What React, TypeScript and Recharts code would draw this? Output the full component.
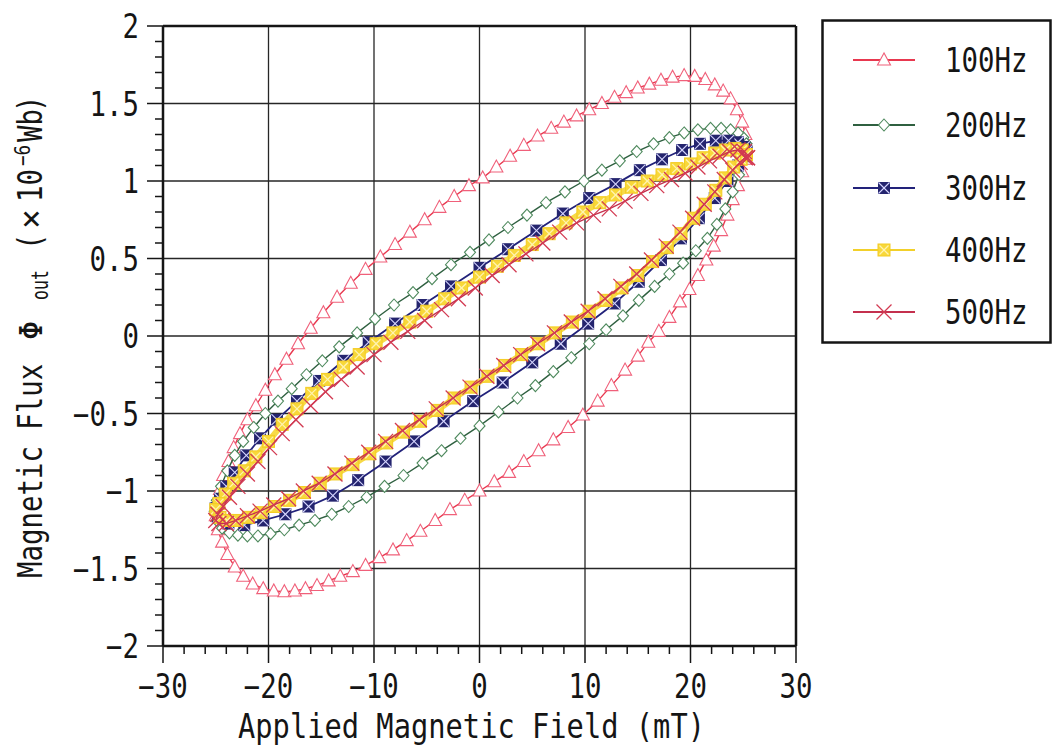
import React from 'react';
import { ScatterChart, Scatter, XAxis, YAxis, CartesianGrid, ReferenceLine, Legend } from 'recharts';

// ---- axis ticks / labels ----
const xTicks = [-30, -28, -26, -24, -22, -20, -18, -16, -14, -12, -10, -8, -6, -4, -2, 0, 2, 4, 6, 8, 10, 12, 14, 16, 18, 20, 22, 24, 26, 28, 30];
const xMajorTicks = [-30, -20, -10, 0, 10, 20, 30];
const xTickLabels = ['−30', '−20', '−10', '0', '10', '20', '30'];
const yTicks = [-2, -1.9, -1.8, -1.7, -1.6, -1.5, -1.4, -1.3, -1.2, -1.1, -1, -0.9, -0.8, -0.7, -0.6, -0.5, -0.4, -0.3, -0.2, -0.1, 0, 0.1, 0.2, 0.3, 0.4, 0.5, 0.6, 0.7, 0.8, 0.9, 1, 1.1, 1.2, 1.3, 1.4, 1.5, 1.6, 1.7, 1.8, 1.9, 2];
const yMajorTicks = [-2, -1.5, -1, -0.5, 0, 0.5, 1, 1.5, 2];
const yTickLabels = ['−2', '−1.5', '−1', '−0.5', '0', '0.5', '1', '1.5', '2'];
const seriesNames = ['100Hz', '200Hz', '300Hz', '400Hz', '500Hz'];

// ---- data: [applied field (mT), flux (x1e-6 Wb)] ----
const loop100Hz = [
  [25.3, 1.22], [25.2, 1.30], [24.9, 1.38], [24.4, 1.46], [23.8, 1.53], [23.1, 1.58], [22.3, 1.62], [21.4, 1.655], [20.4, 1.675], [19.4, 1.68],
  [18.3, 1.67], [17.2, 1.65], [16.1, 1.625], [15.0, 1.60], [13.9, 1.57], [12.8, 1.54], [11.6, 1.50], [10.4, 1.46], [9.2, 1.42], [8.0, 1.38],
  [6.8, 1.34], [5.5, 1.29], [4.2, 1.23], [2.9, 1.16], [1.6, 1.09], [0.3, 1.02], [-1.0, 0.97], [-2.4, 0.90], [-3.8, 0.83], [-5.2, 0.75],
  [-6.6, 0.67], [-8.0, 0.59], [-9.4, 0.51], [-10.8, 0.43], [-12.2, 0.34], [-13.5, 0.25], [-14.8, 0.15], [-16.0, 0.05], [-17.2, -0.05], [-18.3, -0.15],
  [-19.4, -0.25], [-20.3, -0.35], [-21.2, -0.45], [-22.0, -0.54], [-22.7, -0.63], [-23.3, -0.72], [-23.8, -0.81], [-24.3, -0.90], [-24.6, -0.99], [-24.9, -1.08],
  [-25.0, -1.16], [-24.8, -1.25], [-24.4, -1.33], [-23.9, -1.41], [-23.2, -1.49], [-22.4, -1.55], [-21.5, -1.60], [-20.5, -1.63], [-19.5, -1.645], [-18.5, -1.65],
  [-17.5, -1.645], [-16.5, -1.63], [-15.4, -1.61], [-14.3, -1.58], [-13.2, -1.55], [-12.0, -1.52], [-10.8, -1.48], [-9.5, -1.43], [-8.2, -1.38], [-6.9, -1.32],
  [-5.6, -1.26], [-4.2, -1.19], [-2.8, -1.12], [-1.4, -1.06], [0.0, -1.00], [1.4, -0.94], [2.8, -0.88], [4.2, -0.81], [5.6, -0.74], [7.0, -0.67],
  [8.4, -0.59], [9.8, -0.51], [11.2, -0.42], [12.5, -0.32], [13.8, -0.22], [15.0, -0.13], [16.0, -0.04], [17.0, 0.03], [18.0, 0.12], [19.0, 0.22],
  [19.9, 0.30], [20.7, 0.39], [21.5, 0.49], [22.2, 0.58], [22.9, 0.68], [23.5, 0.78], [24.0, 0.88], [24.5, 0.97], [24.9, 1.06], [25.2, 1.14], [25.3, 1.22],
];

const loop200Hz = [
  [25.3, 1.24], [25.0, 1.28], [24.5, 1.31], [23.8, 1.33], [22.9, 1.34], [21.9, 1.34], [20.7, 1.33], [19.4, 1.31], [18.0, 1.28], [16.5, 1.24],
  [14.9, 1.19], [13.3, 1.13], [11.6, 1.07], [9.9, 1.00], [8.1, 0.93], [6.3, 0.86], [4.5, 0.78], [2.7, 0.70], [0.9, 0.62], [-0.9, 0.54],
  [-2.7, 0.46], [-4.5, 0.37], [-6.3, 0.28], [-8.1, 0.20], [-9.9, 0.11], [-11.6, 0.02], [-13.3, -0.07], [-14.9, -0.16], [-16.4, -0.25], [-17.8, -0.34],
  [-19.1, -0.42], [-20.3, -0.50], [-21.4, -0.59], [-22.4, -0.68], [-23.2, -0.77], [-23.9, -0.87], [-24.5, -0.97], [-24.9, -1.06], [-25.1, -1.13],
  [-24.9, -1.19], [-24.4, -1.24], [-23.7, -1.27], [-22.9, -1.285], [-22.0, -1.29], [-21.0, -1.29], [-19.8, -1.275], [-18.5, -1.25], [-17.1, -1.22], [-15.6, -1.19],
  [-14.0, -1.15], [-12.4, -1.10], [-10.7, -1.04], [-9.0, -0.97], [-7.2, -0.90], [-5.4, -0.82], [-3.6, -0.74], [-1.8, -0.66], [0.0, -0.58], [1.8, -0.49],
  [3.6, -0.40], [5.3, -0.32], [7.0, -0.23], [8.7, -0.14], [10.4, -0.05], [12.0, 0.04], [13.6, 0.13], [15.1, 0.23], [16.6, 0.32], [18.0, 0.40],
  [19.3, 0.47], [20.5, 0.55], [21.6, 0.63], [22.5, 0.72], [23.3, 0.82], [24.0, 0.93], [24.6, 1.04], [25.0, 1.14], [25.3, 1.24],
];

const loop300Hz = [
  [25.3, 1.19], [25.1, 1.22], [24.5, 1.25], [23.6, 1.26], [22.4, 1.26], [20.9, 1.24], [19.2, 1.20], [17.3, 1.14], [15.2, 1.07], [12.9, 0.98],
  [10.4, 0.89], [7.9, 0.79], [5.4, 0.68], [2.7, 0.56], [0.0, 0.44], [-2.7, 0.32], [-5.4, 0.20], [-8.0, 0.08], [-10.5, -0.04], [-12.9, -0.16],
  [-15.2, -0.29], [-17.3, -0.42], [-19.2, -0.54], [-20.8, -0.66], [-22.1, -0.77], [-23.2, -0.88], [-24.0, -0.97], [-24.6, -1.05], [-25.0, -1.11],
  [-24.8, -1.17], [-23.8, -1.21], [-22.3, -1.22], [-20.5, -1.19], [-18.4, -1.15], [-16.2, -1.10], [-13.9, -1.03], [-11.5, -0.93], [-8.9, -0.81], [-6.2, -0.68],
  [-3.4, -0.55], [-0.6, -0.42], [2.2, -0.30], [5.0, -0.17], [7.7, -0.05], [10.3, 0.08], [12.8, 0.21], [15.1, 0.35], [17.2, 0.49], [19.1, 0.63],
  [20.8, 0.76], [22.3, 0.89], [23.5, 1.00], [24.5, 1.10], [25.1, 1.16], [25.3, 1.19],
];

const loop400Hz = [
  [25.3, 1.17], [24.9, 1.20], [24.2, 1.21], [23.3, 1.20], [22.3, 1.18], [21.2, 1.15], [20.0, 1.11], [18.7, 1.08], [17.3, 1.04], [15.9, 1.00],
  [14.4, 0.96], [12.9, 0.91], [11.4, 0.86], [9.8, 0.80], [8.2, 0.73], [6.6, 0.66], [5.0, 0.59], [3.3, 0.52], [1.7, 0.45], [0.0, 0.38],
  [-1.7, 0.31], [-3.3, 0.24], [-5.0, 0.16], [-6.6, 0.09], [-8.2, 0.02], [-9.8, -0.05], [-11.4, -0.12], [-12.9, -0.20], [-14.4, -0.28], [-15.9, -0.37],
  [-17.3, -0.47], [-18.7, -0.57], [-20.0, -0.68], [-21.2, -0.78], [-22.3, -0.87], [-23.3, -0.95], [-24.1, -1.02], [-24.7, -1.08], [-25.0, -1.12],
  [-24.6, -1.17], [-23.9, -1.19], [-23.0, -1.19], [-21.9, -1.17], [-20.7, -1.14], [-19.4, -1.10], [-18.0, -1.06], [-16.6, -1.01], [-15.1, -0.95], [-13.6, -0.89],
  [-12.0, -0.83], [-10.4, -0.76], [-8.8, -0.69], [-7.2, -0.62], [-5.6, -0.55], [-4.0, -0.48], [-2.4, -0.40], [-0.8, -0.33], [0.8, -0.26], [2.4, -0.19],
  [4.0, -0.12], [5.6, -0.05], [7.2, 0.02], [8.8, 0.09], [10.4, 0.16], [12.0, 0.23], [13.5, 0.31], [15.0, 0.39], [16.4, 0.48], [17.8, 0.57],
  [19.1, 0.66], [20.3, 0.76], [21.4, 0.85], [22.4, 0.94], [23.3, 1.02], [24.1, 1.09], [24.8, 1.14], [25.3, 1.17],
];

const loop500Hz = [
  [25.4, 1.15], [25.1, 1.19], [24.5, 1.20], [23.7, 1.19], [22.8, 1.16], [21.8, 1.13], [20.7, 1.09], [19.5, 1.05], [18.2, 1.01], [16.8, 0.97],
  [15.3, 0.92], [13.8, 0.87], [12.3, 0.82], [10.8, 0.78], [9.2, 0.73], [7.6, 0.67], [6.0, 0.60], [4.4, 0.53], [2.8, 0.46], [1.2, 0.39],
  [-0.4, 0.31], [-2.0, 0.24], [-3.6, 0.17], [-5.2, 0.10], [-6.8, 0.03], [-8.4, -0.04], [-10.0, -0.12], [-11.6, -0.20], [-13.1, -0.28], [-14.6, -0.36],
  [-16.0, -0.45], [-17.4, -0.54], [-18.7, -0.63], [-19.9, -0.72], [-21.0, -0.81], [-22.0, -0.89], [-22.9, -0.97], [-23.7, -1.04], [-24.3, -1.10], [-24.8, -1.15],
  [-25.0, -1.19], [-24.7, -1.21], [-24.0, -1.21], [-23.1, -1.19], [-22.0, -1.16], [-20.8, -1.13], [-19.5, -1.09], [-18.1, -1.05], [-16.7, -1.00], [-15.2, -0.95],
  [-13.7, -0.89], [-12.1, -0.82], [-10.5, -0.75], [-8.9, -0.68], [-7.3, -0.61], [-5.7, -0.54], [-4.1, -0.47], [-2.5, -0.40], [-0.9, -0.33], [0.7, -0.26],
  [2.3, -0.19], [3.9, -0.12], [5.5, -0.05], [7.1, 0.02], [8.7, 0.09], [10.3, 0.16], [11.9, 0.24], [13.4, 0.32], [14.9, 0.40], [16.3, 0.49],
  [17.7, 0.58], [19.0, 0.67], [20.2, 0.76], [21.3, 0.85], [22.3, 0.93], [23.2, 1.01], [24.0, 1.07], [24.7, 1.12], [25.2, 1.15], [25.4, 1.15],
];

const toPoints = (arr: number[][]) => arr.map(([x, y]) => ({ x, y }));

const MONO = '"DejaVu Sans Mono", "Liberation Mono", monospace';
const INK = '#151515';

// ---- markers ----
const Tri = ({ cx, cy }: any) => (
  <polygon points={`${cx},${cy - 7} ${cx - 6.5},${cy + 5} ${cx + 6.5},${cy + 5}`} fill="#fff" stroke="#f0607a" strokeWidth={1.1} />
);
const Dia = ({ cx, cy }: any) => (
  <polygon points={`${cx},${cy - 6} ${cx + 5.5},${cy} ${cx},${cy + 6} ${cx - 5.5},${cy}`} fill="#fff" stroke="#4f8a5e" strokeWidth={1.1} />
);
const NavySq = ({ cx, cy }: any) => (
  <g>
    <rect x={cx - 6} y={cy - 6} width={12} height={12} fill="#24246e" />
    <line x1={cx - 5.5} y1={cy - 5.5} x2={cx + 5.5} y2={cy + 5.5} stroke="#d6d6ff" strokeWidth={1.1} />
    <line x1={cx - 5.5} y1={cy + 5.5} x2={cx + 5.5} y2={cy - 5.5} stroke="#d6d6ff" strokeWidth={1.1} />
  </g>
);
const YellowSq = ({ cx, cy }: any) => (
  <g>
    <rect x={cx - 6} y={cy - 6} width={12} height={12} fill="#f8d83a" stroke="#f4cc24" strokeWidth={1} />
    <line x1={cx - 4.5} y1={cy - 4.5} x2={cx + 4.5} y2={cy + 4.5} stroke="#fff3b0" strokeWidth={1.3} />
    <line x1={cx - 4.5} y1={cy + 4.5} x2={cx + 4.5} y2={cy - 4.5} stroke="#fff3b0" strokeWidth={1.3} />
  </g>
);
const Cross = ({ cx, cy }: any) => (
  <g stroke="#d23a52" strokeWidth={1.3}>
    <line x1={cx - 7.5} y1={cy - 7.5} x2={cx + 7.5} y2={cy + 7.5} />
    <line x1={cx - 7.5} y1={cy + 7.5} x2={cx + 7.5} y2={cy - 7.5} />
  </g>
);

const seriesStyles = [
  { line: '#e8384f', width: 1.4, Marker: Tri },
  { line: '#2f6040', width: 1.4, Marker: Dia },
  { line: '#22227a', width: 1.8, Marker: NavySq },
  { line: '#f7da48', width: 6, Marker: YellowSq },
  { line: '#c4304e', width: 1.4, Marker: Cross },
];
const legendLineColors = ['#e8384f', '#2f6040', '#22227a', '#f2d02a', '#c4304e'];
const seriesData = [loop100Hz, loop200Hz, loop300Hz, loop400Hz, loop500Hz];

// ---- ticks ----
const XTick = (props: any) => {
  const { x, y, payload } = props;
  const idx = xMajorTicks.indexOf(payload.value);
  const major = idx >= 0;
  return (
    <g>
      <line x1={x} x2={x} y1={y} y2={y + (major ? 17 : 8)} stroke={INK} strokeWidth={1.5} />
      {major && (
        <text transform={`translate(${x},${y + 52}) scale(0.83,1)`} textAnchor="middle" fontFamily={MONO} fontSize={33} fill={INK}>
          {xTickLabels[idx]}
        </text>
      )}
    </g>
  );
};

const YTick = (props: any) => {
  const { x, y, payload } = props;
  const idx = yMajorTicks.findIndex((v) => Math.abs(v - payload.value) < 1e-6);
  const major = idx >= 0;
  return (
    <g>
      <line x1={x} x2={x - (major ? 16 : 8)} y1={y} y2={y} stroke={INK} strokeWidth={1.5} />
      {major && (
        <text transform={`translate(${x - 24},${y + 12}) scale(0.83,1)`} textAnchor="end" fontFamily={MONO} fontSize={33} fill={INK}>
          {yTickLabels[idx]}
        </text>
      )}
    </g>
  );
};

const XTitle = () => (
  <text x={238} y={738} textLength={467} lengthAdjust="spacingAndGlyphs" fontFamily={MONO} fontSize={33} fill={INK}>
    Applied Magnetic Field (mT)
  </text>
);

const rot = (y: number, bx: number, sx: number) => `translate(${bx},${y}) rotate(-90) scale(${sx},1)`;
const YTitle = () => (
  <g fontFamily={MONO} fill={INK}>
    <text transform={rot(578, 42, 0.83)} fontSize={33}>Magnetic Flux</text>
    <text transform={rot(340, 42, 1.0)} fontSize={32}>Φ</text>
    <text transform={rot(300, 48, 0.72)} fontSize={23}>out</text>
    <text transform={rot(250, 42, 0.83)} fontSize={33}>(</text>
    <text transform={rot(229, 42, 1)} fontSize={33}>×</text>
    <text transform={rot(202, 42, 0.83)} fontSize={33}>10</text>
    <text transform={rot(166, 30, 0.8)} fontSize={22}>−6</text>
    <text transform={rot(142, 42, 0.83)} fontSize={33}>Wb</text>
    <text transform={rot(112, 42, 0.83)} fontSize={33}>)</text>
  </g>
);

const legendRows = [41, 106, 169, 231, 293];
const LegendBox = () => (
  <svg width={232} height={326} style={{ display: 'block' }}>
    <rect x={1.5} y={1.5} width={228} height={322} fill="#fff" stroke={INK} strokeWidth={2.5} />
    {seriesNames.map((name, i) => {
      const { Marker } = seriesStyles[i];
      const ry = legendRows[i];
      return (
        <g key={name}>
          <line x1={32} x2={94} y1={ry} y2={ry} stroke={legendLineColors[i]} strokeWidth={2.2} />
          <Marker cx={63} cy={ry} />
          <text transform={`translate(124,${ry + 12}) scale(0.83,1)`} fontFamily={MONO} fontSize={33} fill={INK}>
            {name}
          </text>
        </g>
      );
    })}
  </svg>
);

export default function App() {
  return (
    <div style={{ position: 'absolute', left: 0, top: 0, width: 1053, height: 747, background: '#fff' }}>
      <ScatterChart width={1053} height={747} margin={{ top: 26, right: 257, bottom: 41, left: 63 }}>
        <CartesianGrid
          horizontalValues={yMajorTicks}
          verticalValues={xMajorTicks}
          stroke="#262626"
          strokeWidth={1.3}
          strokeDasharray=""
        />
        <XAxis
          type="number"
          dataKey="x"
          domain={[-30, 30]}
          ticks={xTicks}
          interval={0}
          tickSize={0}
          tickMargin={0}
          tick={<XTick />}
          axisLine={{ stroke: INK, strokeWidth: 2.5 }}
          height={60}
          allowDataOverflow
          label={{ content: () => <XTitle /> }}
        />
        <YAxis
          type="number"
          dataKey="y"
          domain={[-2, 2]}
          ticks={yTicks}
          interval={0}
          tickSize={0}
          tickMargin={0}
          tick={<YTick />}
          axisLine={{ stroke: INK, strokeWidth: 2.5 }}
          width={100}
          allowDataOverflow
          label={{ content: () => <YTitle /> }}
        />
        <ReferenceLine y={2} stroke={INK} strokeWidth={2.5} />
        <ReferenceLine x={30} stroke={INK} strokeWidth={2.5} />
        {seriesNames.map((name, i) => {
          const { line, width, Marker } = seriesStyles[i];
          return (
            <Scatter
              key={name}
              name={name}
              data={toPoints(seriesData[i])}
              fill={line}
              line={{ stroke: line, strokeWidth: width, strokeLinejoin: 'round' }}
              lineType="joint"
              shape={(p: any) => <Marker cx={p.cx} cy={p.cy} />}
              isAnimationActive={false}
            />
          );
        })}
        <Legend
          layout="vertical"
          align="center"
          verticalAlign="middle"
          wrapperStyle={{ left: 821, top: 19, width: 232, height: 326 }}
          content={() => <LegendBox />}
        />
      </ScatterChart>
    </div>
  );
}
